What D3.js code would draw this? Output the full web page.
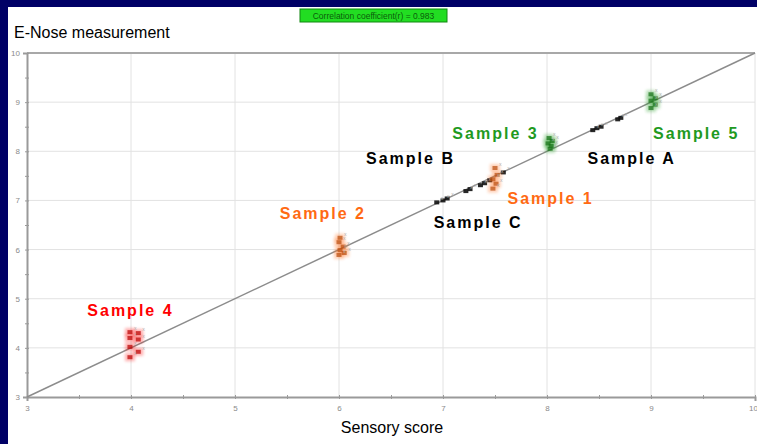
<!DOCTYPE html>
<html>
<head>
<meta charset="utf-8">
<script src="https://cdn.jsdelivr.net/npm/d3@7"></script>
<style>
  html, body { margin: 0; padding: 0; background: #000066; }
  svg { display: block; }
</style>
</head>
<body>
<svg id="chart" width="757" height="444"></svg>
<script>
// Sensory score vs. E-Nose measurement for the tasted samples
const xTicks = [3, 4, 5, 6, 7, 8, 9, 10];
const yTicks = [3, 4, 5, 6, 7, 8, 9, 10];
const sampleNames  = ["Sample 4", "Sample 2", "Sample C", "Sample B", "Sample 1", "Sample 3", "Sample A", "Sample 5"];
const sampleColors = ["#ff0000", "#ff6a13", "#000000", "#000000", "#ff6a13", "#1f9a1f", "#000000", "#1f9a1f"];
// label anchor (sensory score, measurement) for each sample name
const labelX = [3.58, 5.43, 6.91, 6.26, 7.62, 7.09, 8.39, 9.02];
const labelY = [4.64, 6.63, 6.43, 7.75, 6.92, 8.25, 7.75, 8.25];

// measured points: [sensory score, e-nose value]
const sample4 = [[3.99, 4.32], [4.07, 4.30], [3.99, 4.20], [4.07, 4.17], [3.99, 4.02], [4.07, 3.92], [3.99, 3.81]];
const sample2 = [[6.01, 6.24], [6.00, 6.15], [6.04, 6.06], [6.01, 5.99], [6.05, 5.93], [6.00, 5.89]];
const sampleC = [[6.94, 6.96], [7.04, 7.04], [7.00, 7.00]];
const sampleB = [[7.22, 7.19], [7.26, 7.23], [7.36, 7.31], [7.40, 7.35], [7.45, 7.41], [7.58, 7.57]];
const sample1 = [[7.50, 7.66], [7.52, 7.52], [7.48, 7.43], [7.51, 7.34], [7.48, 7.24]];
const sample3 = [[8.02, 8.27], [8.05, 8.21], [8.01, 8.16], [8.04, 8.11], [8.03, 8.05]];
const sampleA = [[8.44, 8.43], [8.48, 8.47], [8.52, 8.50], [8.68, 8.65], [8.71, 8.68]];
const sample5 = [[9.00, 9.16], [9.04, 9.08], [9.00, 9.03], [9.04, 8.95], [9.00, 8.88]];
const samplePoints = [sample4, sample2, sampleC, sampleB, sample1, sample3, sampleA, sample5];

const svg = d3.select("#chart");
const W = 757, H = 444;

// white panel
svg.append("rect").attr("x", 8).attr("y", 7).attr("width", W - 8).attr("height", H - 7).attr("fill", "#ffffff");

const x = d3.scaleLinear().domain([3, 10]).range([27, 755]);
const y = d3.scaleLinear().domain([3, 10]).range([397, 53]);

// grid
const grid = svg.append("g");
grid.selectAll(".gx").data(xTicks.slice(1)).join("line")
  .attr("x1", d => x(d)).attr("x2", d => x(d)).attr("y1", y(10)).attr("y2", y(3))
  .attr("stroke", "#e2e2e2").attr("stroke-width", 1);
grid.selectAll(".gy").data(yTicks.slice(1)).join("line")
  .attr("x1", x(3)).attr("x2", x(10)).attr("y1", d => y(d)).attr("y2", d => y(d))
  .attr("stroke", "#e2e2e2").attr("stroke-width", 1);

// frame
svg.append("line").attr("x1", x(3)).attr("x2", x(10)).attr("y1", y(10)).attr("y2", y(10))
  .attr("stroke", "#a8a8a8").attr("stroke-width", 2);

// axes
const minor = d3.range(3, 10.01, 0.5);
const xAxis = d3.axisBottom(x).tickValues(minor).tickSize(4)
  .tickFormat(d => Number.isInteger(d) ? d : "");
const yAxis = d3.axisLeft(y).tickValues(minor).tickSize(4)
  .tickFormat(d => Number.isInteger(d) ? d : "");

const gx = svg.append("g").attr("transform", `translate(0,${y(3)})`).call(xAxis);
const gy = svg.append("g").attr("transform", `translate(${x(3)},0)`).call(yAxis);
[gx, gy].forEach(g => {
  g.select(".domain").attr("stroke", "#9a9a9a").attr("stroke-width", 2);
  g.selectAll(".tick line").attr("stroke", "#9a9a9a").attr("transform", g === gx ? "translate(0,-2)" : "translate(2,0)");
  g.selectAll(".tick text").attr("fill", "#8a8a8a").attr("font-size", 8)
    .attr("font-family", "Liberation Sans, Arial, sans-serif");
});
gx.selectAll(".tick text").attr("dy", "0.9em");
gx.selectAll(".tick text").filter(d => d === 10).attr("text-anchor", "end").attr("dx", "0.3em");

// identity line
svg.append("line")
  .attr("x1", x(3)).attr("y1", y(3)).attr("x2", x(10)).attr("y2", y(10))
  .attr("stroke", "#8c8c8c").attr("stroke-width", 1.5);

// points
const defs = svg.append("defs");
defs.append("filter").attr("id", "glow").attr("x", "-100%").attr("y", "-100%").attr("width", "300%").attr("height", "300%")
  .append("feGaussianBlur").attr("stdDeviation", 1.6);

samplePoints.forEach((pts, i) => {
  const c = sampleColors[i];
  const g = svg.append("g");
  if (c !== "#000000") {
    g.selectAll(".halo").data(pts).join("rect")
      .attr("x", d => x(d[0]) - 5).attr("y", d => y(d[1]) - 4)
      .attr("width", 10).attr("height", 8)
      .attr("fill", c).attr("opacity", 0.3).attr("filter", "url(#glow)");
  }
  const core = c === "#000000" ? "#111111" : d3.color(c).darker(0.9).formatHex();
  g.selectAll(".pt").data(pts).join("rect")
    .attr("x", d => x(d[0]) - 2.5).attr("y", d => y(d[1]) - 2)
    .attr("width", 5).attr("height", 4)
    .attr("fill", core).attr("opacity", c === "#000000" ? 0.9 : 0.7);
  g.selectAll(".mk").data(pts).join("text")
    .attr("x", d => x(d[0]) + 4).attr("y", d => y(d[1]) - 2)
    .attr("font-size", 5).attr("fill", "#b0b0b0")
    .attr("font-family", "Liberation Sans, Arial, sans-serif")
    .text("x");
});

// sample names
svg.selectAll(".lab").data(sampleNames).join("text")
  .attr("x", (d, i) => x(labelX[i])).attr("y", (d, i) => y(labelY[i]))
  .attr("fill", (d, i) => sampleColors[i])
  .attr("font-family", "Liberation Sans, Arial, sans-serif")
  .attr("font-weight", "bold").attr("font-size", 16).attr("letter-spacing", 2)
  .text(d => d);

// titles
svg.append("text").attr("x", 14).attr("y", 38)
  .attr("font-family", "Liberation Sans, Arial, sans-serif").attr("font-size", 16)
  .attr("fill", "#000").text("E-Nose measurement");
svg.append("text").attr("x", 392).attr("y", 433).attr("text-anchor", "middle")
  .attr("font-family", "Liberation Sans, Arial, sans-serif").attr("font-size", 16)
  .attr("fill", "#000").text("Sensory score");

// correlation badge
svg.append("rect").attr("x", 300).attr("y", 9).attr("width", 147).attr("height", 13)
  .attr("fill", "#22dd22").attr("stroke", "#118811").attr("stroke-width", 1);
svg.append("text").attr("x", 373.5).attr("y", 19).attr("text-anchor", "middle")
  .attr("font-family", "Liberation Sans, Arial, sans-serif").attr("font-size", 8.5)
  .attr("fill", "#0b5e0b").text("Correlation coefficient(r) = 0.983");
</script>
</body>
</html>
